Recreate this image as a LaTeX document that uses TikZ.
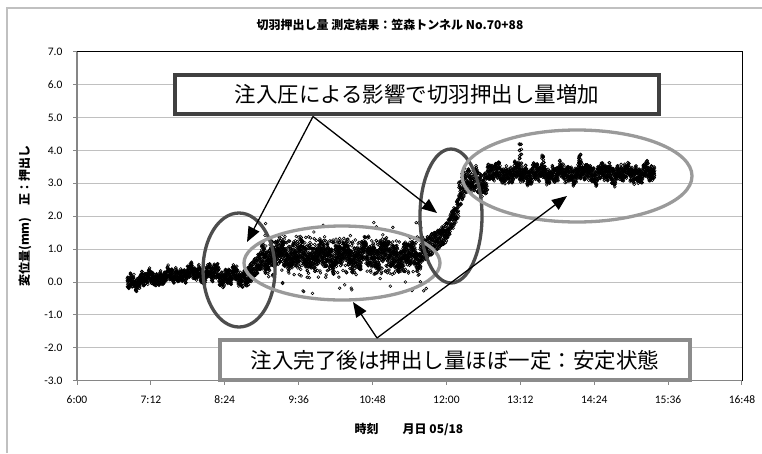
\documentclass[tikz,border=0pt]{standalone}
\usepackage{fontspec}
\setmainfont{Carlito}
\newfontfamily\jpfont{Noto Sans CJK JP}
\usetikzlibrary{arrows.meta, shapes.geometric}

\definecolor{gridgray}{HTML}{C0C0C0}
\definecolor{axisgray}{HTML}{868686}
\definecolor{boxdark}{HTML}{404040}
\definecolor{boxlight}{HTML}{8C8C8C}
\definecolor{ringdark}{HTML}{4D4D4D}
\definecolor{ringlight}{HTML}{9A9A9A}

\begin{document}
\begin{tikzpicture}
        [
          x=1pt, y=-1pt,
          tick/.style={font=\fontsize{11.5}{13}\selectfont},
          axtitle/.style={font=\jpfont\bfseries\fontsize{12}{14}\selectfont},
          ring/.style={ellipse, draw, line width=3.3pt, inner sep=0pt},
          callout/.style={draw, fill=white, line width=4pt, inner sep=0pt,
            font=\jpfont\fontsize{21.5}{24}\selectfont},
          pointer/.style={line width=1.3pt, -{Triangle[length=15pt,width=12pt]}},
          pt/.style={line width=0.6pt},
          declare function={wig(\q)=0.07*sin(17*mod(\q,360))+0.06*sin(41.3*mod(\q,100)+20)+0.05*sin(97.7*mod(\q,100)+50);}
        ]
        \useasboundingbox (0,0) rectangle (762,453);
        % chart frame and title
        \draw[gridgray, line width=2pt] (7,453) -- (7,8) -- (762,8);
        \node[axtitle, font=\jpfont\bfseries\fontsize{12}{14}\selectfont] (title) at (390,25)
          {切羽押出し量 測定結果：笠森トンネル No.70+88};
        \node[axtitle, rotate=90] (ytitle) at (25,216) {変位量(mm)\quad 正：押出し};
        \node[axtitle] (xtitle) at (409,429) {時刻\quad\quad 月日 05/18};
        % plot area: x in minutes from 6:00, y in mm
        \begin{scope}[shift={(77,282)}, x=1.0262pt, y=32.9pt]
          \foreach \v in {-2,...,6} {
            \draw[gridgray, line width=1pt] (0,\v) -- (648,\v);
          }
          \draw[black, line width=0.8pt] (0,7) -- (648,7) -- (648,-3);
          \draw[axisgray, line width=1.5pt] (0,7) -- (0,-3) -- (648,-3);
          \foreach \v/\s in {7/7.0,6/6.0,5/5.0,4/4.0,3/3.0,2/2.0,1/1.0,0/0.0,-1/-1.0,-2/-2.0,-3/-3.0} {
            \draw[axisgray, line width=1pt] (0,\v) -- ++(-4pt,0);
            \node[tick, anchor=east, xshift=-11pt] (yl\v) at (0,\v) {\s};
          }
          \foreach \k/\s in {0/6:00,1/7:12,2/8:24,3/9:36,4/10:48,5/12:00,6/13:12,7/14:24,8/15:36,9/16:48} {
            \draw[axisgray, line width=1pt] (72*\k,-3) -- ++(0,-4pt);
            \node[tick, yshift=-19pt] (xl\k) at (72*\k,-3) {\s};
          }
          % measured points
          \pgfmathsetseed{518}
          \foreach \m in {49,49.1,...,120}
            \draw[pt] ({\m},{0.3*(\m-49)/71+wig(\m)+0.18*rand}) circle[radius=1.4pt];
          \foreach \m in {120,120.1,...,165}
            \draw[pt] ({\m},{0.3-0.2*(\m-120)/45+1.3*wig(\m)+0.2*rand}) circle[radius=1.4pt];
          \foreach \m in {165,165.1,...,180}
            \draw[pt] ({\m},{0.1+0.6*(\m-165)/15+0.28*rand}) circle[radius=1.4pt];
          \foreach \m in {180,180.1,...,335}
            \draw[pt] ({\m},{0.8+1.6*wig(\m)+0.3*rand}) circle[radius=1.4pt];
          \foreach \m in {180,180.4,...,335}
            \draw[pt] ({\m},{0.8+wig(\m*1.3)+0.6*rand}) circle[radius=1.4pt];
          \foreach \i in {1,...,60}
            \draw[pt] ({262+82*rand},{0.75+1.15*rand}) circle[radius=1.4pt];
          \foreach \m in {335,335.1,...,360}
            \draw[pt] ({\m},{0.9+0.6*(\m-335)/25+0.32*rand}) circle[radius=1.4pt];
          \foreach \m in {360,360.1,...,372}
            \draw[pt] ({\m},{1.5+0.8*(\m-360)/12+0.3*rand}) circle[radius=1.4pt];
          \foreach \m in {372,372.1,...,378}
            \draw[pt] ({\m},{2.6+0.5*(\m-372)/6+0.45*rand}) circle[radius=1.4pt];
          \foreach \m in {378,378.1,...,400}
            \draw[pt] ({\m},{3.05+wig(\m)+0.33*rand}) circle[radius=1.4pt];
          \foreach \m in {400,400.1,...,563}
            \draw[pt] ({\m},{3.3+1.2*wig(\m)+0.22*rand}) circle[radius=1.4pt];
          \foreach \i in {1,...,25}
            \draw[pt] ({432+1.5*rand},{3.7+0.5*rand}) circle[radius=1.4pt];
          \foreach \i in {1,...,15}
            \draw[pt] ({454+1.2*rand},{3.6+0.3*rand}) circle[radius=1.4pt];
          \foreach \i in {1,...,25}
            \draw[pt] ({490+1.5*rand},{3.65+0.45*rand}) circle[radius=1.4pt];
        \end{scope}
        % marked ranges
        \node[ring, draw=ringdark, minimum width=72pt, minimum height=114pt] (r1) at (239,270) {};
        \node[ring, draw=ringlight, minimum width=196pt, minimum height=74pt] (r2) at (342,263) {};
        \node[ring, draw=ringdark, minimum width=62pt, minimum height=134pt] (r3) at (451,216) {};
        \node[ring, draw=ringlight, minimum width=230pt, minimum height=92pt] (r4) at (577,176) {};
        % notes
        \node[callout, draw=boxdark, minimum width=484pt, minimum height=39pt] (note1) at (417,94.5)
          {注入圧による影響で切羽押出し量増加};
        \node[callout, draw=boxlight, minimum width=470pt, minimum height=40pt] (note2) at (455,360)
          {注入完了後は押出し量ほぼ一定：安定状態};
        % pointers
        \coordinate (s1) at (313,116.5);
        \coordinate (s2) at (377,338);
        \coordinate (t1) at (247,242);
        \coordinate (t2) at (437,213);
        \coordinate (t3) at (353,302);
        \coordinate (t4) at (567,196);
        \draw[pointer] (s1) -- (t1);
        \draw[pointer] (s1) -- (t2);
        \draw[pointer] (s2) -- (t3);
        \draw[pointer] (s2) -- (t4);
      \end{tikzpicture}
\end{document}
